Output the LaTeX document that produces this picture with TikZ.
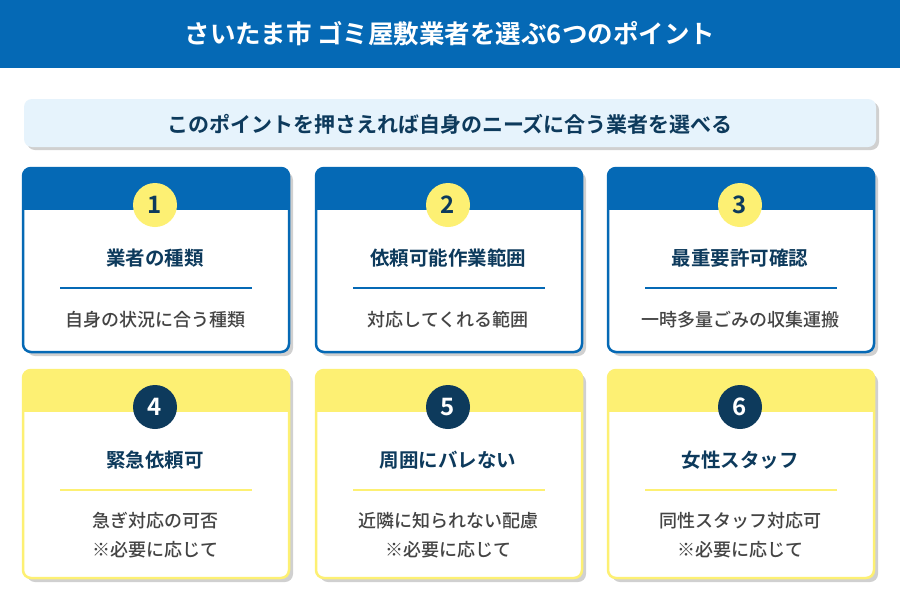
\documentclass[tikz,border=0pt]{standalone}
\usepackage{fontspec}
\setmainfont{Noto Sans CJK JP}
\newfontfamily\jpb{Noto Sans CJK JP}[BoldFont=* Bold]
\newfontfamily\jpm{Noto Sans CJK JP Medium}
\definecolor{mblue}{HTML}{0569B5}
\definecolor{navy}{HTML}{0D3A5C}
\definecolor{lblue}{HTML}{E6F3FC}
\definecolor{myel}{HTML}{FDF073}
\definecolor{sgray}{HTML}{D0D0D0}
\definecolor{tgray}{HTML}{444444}
\tikzset{
 ttl/.style={font=\jpb\bfseries\fontsize{19.5}{22}\selectfont,text=navy},
 body/.style={font=\jpm\fontsize{18}{29}\selectfont,text=tgray,align=center},
 num/.style={circle,minimum size=44pt,inner sep=0pt,font=\jpb\bfseries\fontsize{24}{26}\selectfont},
}
\newcommand\mycard[8]{% x y h col numfill numtext title body
 \fill[sgray,rounded corners=8pt] (#1+4,#2+4) rectangle (#1+270,#2+#3+4);
 \fill[white,rounded corners=8pt] (#1,#2) rectangle (#1+266,#2+#3);
 \begin{scope}
 \clip[rounded corners=8pt] (#1,#2) rectangle (#1+266,#2+#3);
 \fill[#4] (#1,#2) rectangle (#1+266,#2+42);
 \end{scope}
 \draw[#4,line width=2.5pt,rounded corners=8pt] (#1,#2) rectangle (#1+266,#2+#3);
 \node[num,fill=#5,text=#6] (n#1#2) at (#1+132,#2+37) {#7};
 \node[ttl] (t#1#2) at (#1+132,#2+90) {#8};
 \draw[#4,line width=1.2pt] (#1+37,#2+120) -- (#1+229,#2+120);
}
\begin{document}
\begin{tikzpicture}[x=1pt,y=-1pt]
\useasboundingbox (0,0) rectangle (900,600);
\fill[white] (0,0) rectangle (900,600);
\fill[mblue] (0,0) rectangle (900,68);
\node[font=\jpb\bfseries\fontsize{25.5}{28}\selectfont,text=white] (title) at (450,34) {さいたま市 ゴミ屋敷業者を選ぶ6つのポイント};
\fill[sgray,rounded corners=8pt] (27,102) rectangle (879,150);
\fill[lblue,rounded corners=8pt] (24,99) rectangle (876,147);
\node[font=\jpb\bfseries\fontsize{21}{23}\selectfont,text=navy] (sub) at (450,124) {このポイントを押さえれば自身のニーズに合う業者を選べる};
\mycard{23}{168}{184}{mblue}{myel}{navy}{1}{業者の種類}
\node[body] (b1) at (155,320) {自身の状況に合う種類};
\mycard{316}{168}{184}{mblue}{myel}{navy}{2}{依頼可能作業範囲}
\node[body] (b2) at (448,320) {対応してくれる範囲};
\mycard{608}{168}{184}{mblue}{myel}{navy}{3}{最重要許可確認}
\node[body] (b3) at (740,320) {一時多量ごみの収集運搬};
\mycard{23}{370}{208}{myel}{navy}{white}{4}{緊急依頼可}
\node[body] (b4) at (155,535) {急ぎ対応の可否\\※必要に応じて};
\mycard{316}{370}{208}{myel}{navy}{white}{5}{周囲にバレない}
\node[body] (b5) at (448,535) {近隣に知られない配慮\\※必要に応じて};
\mycard{608}{370}{208}{myel}{navy}{white}{6}{女性スタッフ}
\node[body] (b6) at (740,535) {同性スタッフ対応可\\※必要に応じて};
\end{tikzpicture}
\end{document}
